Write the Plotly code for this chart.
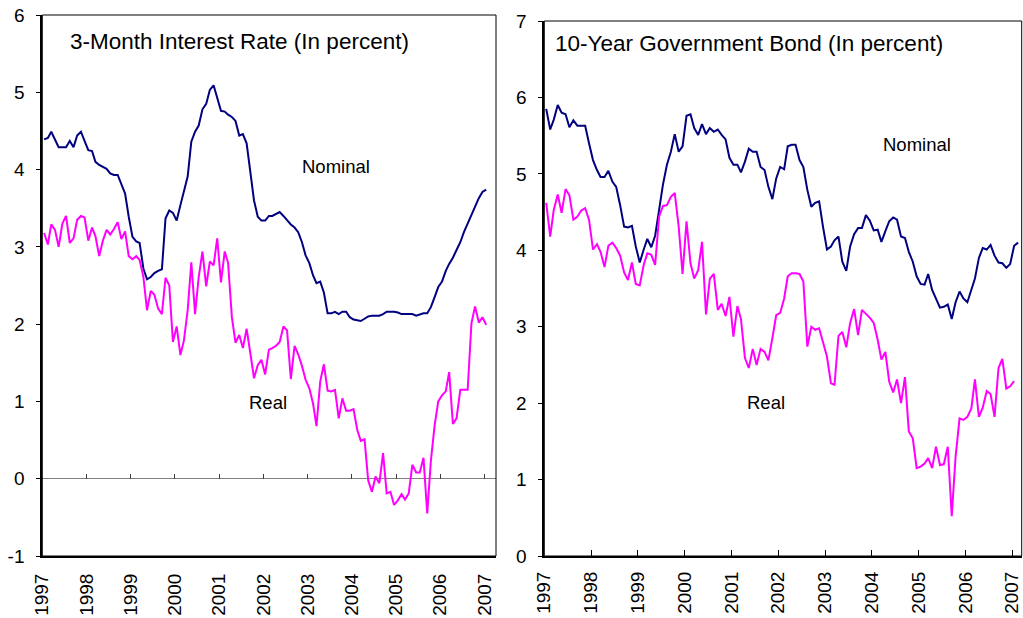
import pandas as pd
import plotly.graph_objects as go

# monthly observations, Jan 1997 onward (plotted mid-month)
nominal_3m = [4.39, 4.41, 4.49, 4.39, 4.29, 4.29, 4.29, 4.37, 4.29, 4.44,
              4.49, 4.37, 4.25, 4.24, 4.10, 4.06, 4.04, 4.01, 3.95, 3.93,
              3.93, 3.82, 3.69, 3.39, 3.13, 3.07, 3.05, 2.72, 2.58, 2.61,
              2.66, 2.69, 2.71, 3.37, 3.47, 3.44, 3.34, 3.54, 3.73, 3.91,
              4.36, 4.49, 4.57, 4.78, 4.85, 5.03, 5.09, 4.92, 4.76, 4.75,
              4.71, 4.68, 4.63, 4.44, 4.46, 4.34, 3.99, 3.60, 3.39, 3.34,
              3.34, 3.40, 3.40, 3.43, 3.45, 3.40, 3.34, 3.29, 3.25, 3.19,
              3.06, 2.89, 2.79, 2.63, 2.53, 2.55, 2.41, 2.14, 2.14, 2.16,
              2.13, 2.16, 2.16, 2.09, 2.06, 2.05, 2.04, 2.07, 2.10, 2.11,
              2.11, 2.11, 2.13, 2.16, 2.16, 2.16, 2.15, 2.13, 2.13, 2.13,
              2.13, 2.11, 2.12, 2.14, 2.14, 2.22, 2.35, 2.48, 2.55, 2.69,
              2.78, 2.86, 2.96, 3.06, 3.19, 3.30, 3.43, 3.54, 3.63, 3.71,
              3.74]

real_3m = [3.18, 3.03, 3.29, 3.22, 3.00, 3.30, 3.40, 3.05, 3.11, 3.35,
           3.40, 3.38, 3.08, 3.25, 3.14, 2.88, 3.08, 3.22, 3.16, 3.23,
           3.32, 3.10, 3.20, 2.88, 2.84, 2.88, 2.83, 2.61, 2.18, 2.43,
           2.38, 2.20, 2.13, 2.60, 2.50, 1.77, 1.97, 1.60, 1.79, 2.18,
           2.80, 2.13, 2.61, 2.94, 2.49, 2.81, 2.76, 3.11, 2.54, 2.94,
           2.79, 2.09, 1.76, 1.86, 1.69, 1.94, 1.62, 1.30, 1.47, 1.54,
           1.35, 1.67, 1.69, 1.72, 1.77, 1.97, 1.92, 1.29, 1.72, 1.61,
           1.46, 1.28, 1.17, 0.97, 0.68, 1.26, 1.48, 1.14, 1.13, 1.15,
           0.78, 1.04, 0.88, 0.88, 0.90, 0.63, 0.49, 0.51, -0.02, -0.17,
           0.03, -0.06, 0.33, -0.19, -0.17, -0.34, -0.28, -0.20, -0.27, -0.19,
           0.18, 0.08, 0.08, 0.27, -0.45, 0.23, 0.69, 1.00, 1.08, 1.13,
           1.38, 0.71, 0.78, 1.15, 1.15, 1.15, 2.01, 2.23, 2.02, 2.09,
           1.99]

nominal_10y = [5.85, 5.58, 5.71, 5.90, 5.80, 5.78, 5.61, 5.70, 5.63, 5.63,
               5.63, 5.40, 5.18, 5.05, 4.96, 4.96, 5.04, 4.90, 4.83, 4.59,
               4.31, 4.30, 4.32, 4.05, 3.84, 4.01, 4.15, 4.04, 4.19, 4.53,
               4.86, 5.12, 5.29, 5.52, 5.29, 5.36, 5.76, 5.78, 5.60, 5.51,
               5.65, 5.52, 5.60, 5.55, 5.58, 5.51, 5.45, 5.21, 5.12, 5.12,
               5.02, 5.16, 5.33, 5.29, 5.29, 5.09, 5.05, 4.83, 4.67, 4.94,
               5.09, 5.06, 5.36, 5.38, 5.38, 5.18, 5.09, 4.79, 4.57, 4.62,
               4.64, 4.31, 4.01, 4.05, 4.13, 4.18, 3.85, 3.73, 4.05, 4.21,
               4.29, 4.29, 4.46, 4.39, 4.26, 4.27, 4.11, 4.25, 4.38, 4.43,
               4.40, 4.18, 4.16, 3.98, 3.85, 3.66, 3.56, 3.55, 3.69, 3.48,
               3.37, 3.25, 3.26, 3.29, 3.10, 3.32, 3.46, 3.37, 3.32, 3.47,
               3.63, 3.90, 4.03, 4.01, 4.07, 3.93, 3.84, 3.83, 3.77, 3.82,
               4.06, 4.10]

real_10y = [4.62, 4.18, 4.53, 4.73, 4.49, 4.80, 4.72, 4.40, 4.44, 4.52,
            4.55, 4.40, 4.01, 4.08, 3.98, 3.78, 4.06, 4.10, 4.03, 3.93,
            3.71, 3.61, 3.84, 3.56, 3.54, 3.81, 3.96, 3.94, 3.81, 4.44,
            4.58, 4.59, 4.70, 4.75, 4.31, 3.69, 4.38, 3.83, 3.63, 3.74,
            4.11, 3.16, 3.63, 3.69, 3.22, 3.30, 3.14, 3.39, 2.87, 3.27,
            3.10, 2.59, 2.46, 2.71, 2.50, 2.71, 2.67, 2.56, 2.85, 3.15,
            3.18, 3.37, 3.66, 3.70, 3.70, 3.69, 3.59, 2.74, 3.00, 2.96,
            2.98, 2.78, 2.61, 2.26, 2.24, 2.88, 2.93, 2.73, 3.05, 3.23,
            2.89, 3.22, 3.17, 3.12, 3.05, 2.83, 2.57, 2.67, 2.28, 2.14,
            2.31, 2.00, 2.34, 1.63, 1.54, 1.15, 1.17, 1.21, 1.28, 1.15,
            1.43, 1.19, 1.20, 1.43, 0.52, 1.30, 1.80, 1.78, 1.82, 1.93,
            2.31, 1.82, 1.94, 2.16, 2.12, 1.82, 2.46, 2.58, 2.19, 2.22,
            2.29]

left_ticks = [-1, 0, 1, 2, 3, 4, 5, 6]
left_ticktext = ['-1', '0', '1', '2', '3', '4', '5', '6']


def months(n):
    return pd.date_range('1997-01-01', periods=n, freq='MS') + pd.Timedelta(days=15)


W, H = 1023, 618
FONT = 'Arial, Liberation Sans, sans-serif'
NAVY = '#000080'
MAGENTA = '#FF00FF'


def px_x(v):
    return v / W


def px_y(v):
    return 1 - v / H


fig = go.Figure()

# left panel: 3-month rate
fig.add_trace(go.Scatter(x=months(len(nominal_3m)), y=nominal_3m, mode='lines',
                         line=dict(color=NAVY, width=2), xaxis='x', yaxis='y'))
fig.add_trace(go.Scatter(x=months(len(real_3m)), y=real_3m, mode='lines',
                         line=dict(color=MAGENTA, width=2), xaxis='x', yaxis='y'))
# empty trace so the tick axis on the zero line gets drawn
fig.add_trace(go.Scatter(x=[months(1)[0]], y=[None], mode='lines', xaxis='x3', yaxis='y',
                         hoverinfo='skip'))

# right panel: 10-year bond
fig.add_trace(go.Scatter(x=months(len(nominal_10y)), y=nominal_10y, mode='lines',
                         line=dict(color=NAVY, width=2), xaxis='x2', yaxis='y2'))
fig.add_trace(go.Scatter(x=months(len(real_10y)), y=real_10y, mode='lines',
                         line=dict(color=MAGENTA, width=2), xaxis='x2', yaxis='y2'))

tickfont = dict(family=FONT, size=19, color='black')
left_dom_y = [px_y(556), px_y(15)]
right_dom_y = [px_y(556), px_y(21)]
zero_pos = px_y(478.7)

xcommon = dict(type='date', tick0='1997-01-01', dtick='M12', tickformat='%Y',
               showgrid=False, zeroline=False, automargin=False)

fig.update_layout(
    width=W, height=H,
    margin=dict(l=0, r=0, t=0, b=0),
    paper_bgcolor='white', plot_bgcolor='white',
    showlegend=False,
    font=dict(family=FONT, color='black'),
    xaxis=dict(**xcommon, domain=[px_x(42.3), px_x(496)], anchor='y',
               range=['1997-01-01', '2007-04-07'], ticks='', tickangle=-90,
               tickfont=tickfont, ticklabelstandoff=8,
               showline=True, linecolor='black', linewidth=2),
    xaxis3=dict(**xcommon, overlaying='x', anchor='free', position=zero_pos,
                range=['1997-01-01', '2007-04-07'], ticks='inside', ticklen=5,
                tickwidth=1, tickcolor='#404040', showticklabels=False, showline=False),
    yaxis=dict(domain=left_dom_y, anchor='x', range=[-1, 6],
               tickvals=left_ticks, ticktext=left_ticktext,
               ticks='outside', ticklen=4, tickcolor='black', tickfont=tickfont,
               ticklabelstandoff=8, showgrid=False, automargin=False,
               showline=True, linecolor='black', linewidth=2,
               zeroline=True, zerolinecolor='#808080', zerolinewidth=1),
    xaxis2=dict(**xcommon, domain=[px_x(544.3), px_x(1021.7)], anchor='y2',
                range=['1997-01-01', '2007-03-16'], ticks='inside', ticklen=6,
                tickcolor='black', tickangle=-90, tickfont=tickfont,
                ticklabelstandoff=6,
                showline=True, linecolor='black', linewidth=2),
    yaxis2=dict(domain=right_dom_y, anchor='x2', range=[0, 7], dtick=1,
                ticks='outside', ticklen=4, tickcolor='black', tickfont=tickfont,
                ticklabelstandoff=8, showgrid=False, zeroline=False, automargin=False,
                showline=True, linecolor='black', linewidth=2),
)

# thin frame around both plot areas
for xr, yr in [('x', 'y'), ('x2', 'y2')]:
    fig.add_shape(type='rect', xref=f'{xr} domain', yref=f'{yr} domain',
                  x0=0, x1=1, y0=0, y1=1, line=dict(color='black', width=1))

notes = [
    ('3-Month Interest Rate (In percent)', 68, 42, 'left', 22.5),
    ('10-Year Government Bond (In percent)', 553, 43, 'left', 22.5),
    ('Nominal', 336, 166, 'center', 18.5),
    ('Real', 268, 402, 'center', 18.5),
    ('Nominal', 917, 144, 'center', 18.5),
    ('Real', 766, 402, 'center', 18.5),
]
for text, x, y, anchor, size in notes:
    fig.add_annotation(text=text, xref='paper', yref='paper', x=px_x(x), y=px_y(y),
                       xanchor=anchor, yanchor='middle', showarrow=False,
                       font=dict(family=FONT, size=size, color='black'))

# drop the browser's default body margin so the figure sits at the page corner
fig.write_html("out.html", config={'displayModeBar': False},
               post_script="document.body.style.margin = '0px';")
